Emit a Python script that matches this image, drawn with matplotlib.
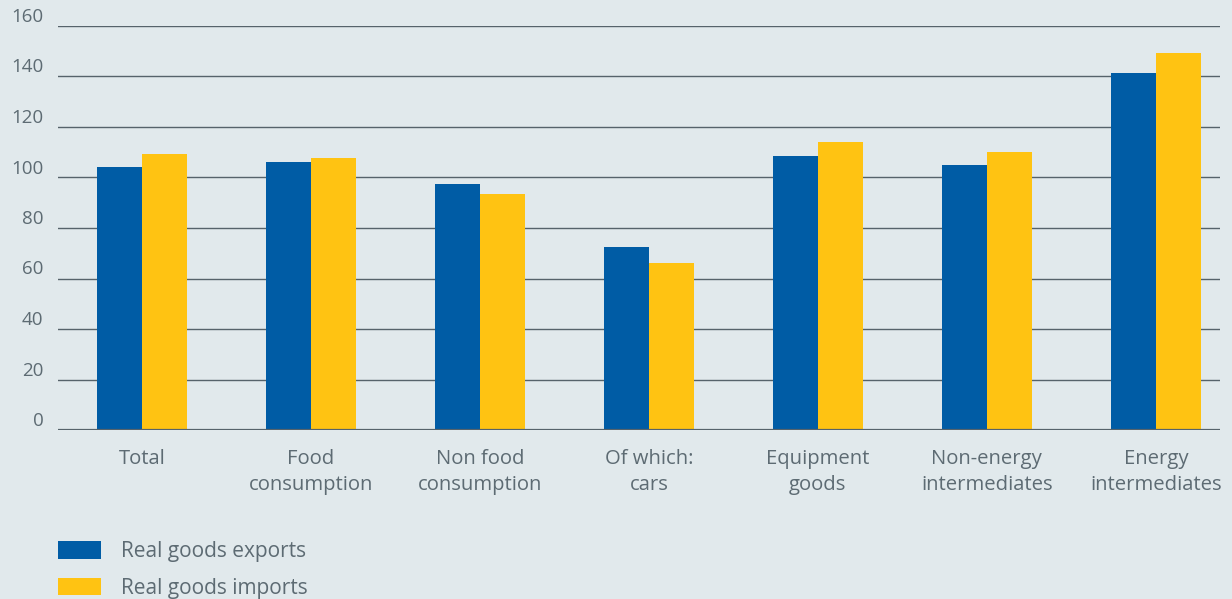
import numpy as np
import matplotlib.pyplot as plt

categories = ['Total', 'Food\nconsumption', 'Non food\nconsumption', 'Of which:\ncars',
              'Equipment\ngoods', 'Non-energy\nintermediates', 'Energy\nintermediates']
exports = [104.2, 106.1, 97.4, 72.5, 108.5, 104.9, 141.4]
imports = [109.3, 107.7, 93.5, 66.1, 114.1, 110.1, 149.3]
y_ticks = [0, 20, 40, 60, 80, 100, 120, 140, 160]

BG = '#e1e9ec'
BLUE = '#005ca5'
YELLOW = '#ffc312'
TEXT = '#5d6b73'
GRID = '#56636b'

plt.rcParams['font.family'] = ['Open Sans', 'DejaVu Sans']

fig = plt.figure(figsize=(12.32, 5.99), dpi=100, facecolor=BG)
ax = fig.add_axes([58 / 1232, 1 - 430 / 599, (1220 - 58) / 1232, (430 - 26) / 599])
ax.set_facecolor(BG)

x = np.arange(len(categories))
w = 0.268
ax.bar(x - w / 2, exports, w, color=BLUE, label='Real goods exports', zorder=3)
ax.bar(x + w / 2, imports, w, color=YELLOW, label='Real goods imports', zorder=3)

ax.set_xlim(-0.497, 6.38)
ax.set_ylim(0, 160)
ax.set_yticks(y_ticks)
ax.yaxis.grid(True, color=GRID, lw=1, zorder=0)
ax.axhline(0, color=GRID, lw=1.6, zorder=4)
for s in ax.spines.values():
    s.set_visible(False)

ax.set_xticks(x)
ax.set_xticklabels(categories, fontsize=14.6, color=TEXT, linespacing=1.38)
ax.tick_params(axis='x', length=0, pad=14)
ax.tick_params(axis='y', length=0, pad=10.5, labelsize=13.5, labelcolor=TEXT)
for lab in ax.get_yticklabels():
    lab.set_va('bottom')

fig.legend(loc='upper left', bbox_to_anchor=(50 / 1232, 1 - 533 / 599), frameon=False,
           fontsize=15, labelcolor=TEXT, handlelength=2.07, handleheight=0.91,
           handletextpad=0.96, labelspacing=0.75, borderaxespad=0)

fig.savefig('out.png', dpi=100, facecolor=BG)
